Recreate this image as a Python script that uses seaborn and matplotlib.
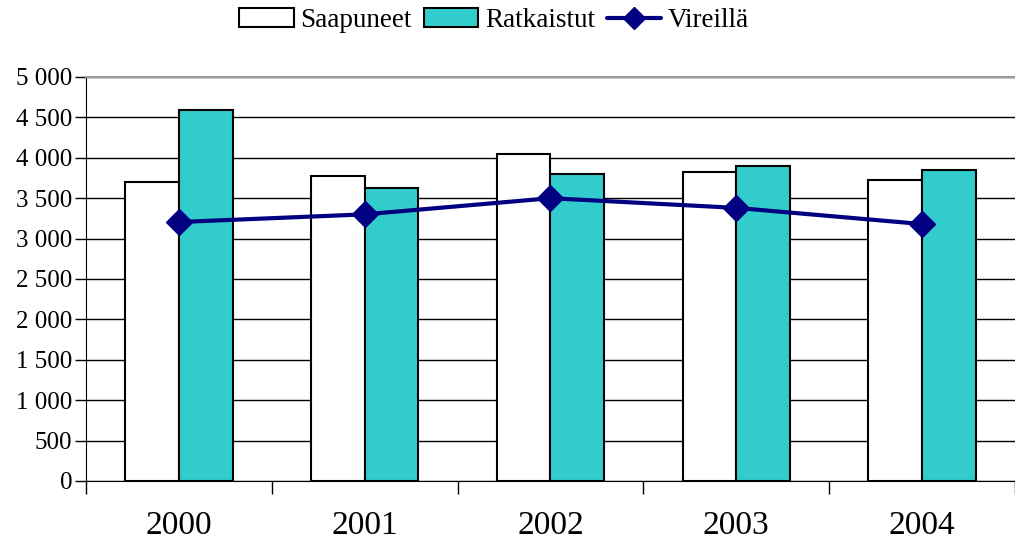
import matplotlib
matplotlib.use('Agg')
import matplotlib.pyplot as plt
from matplotlib.patches import Patch
from matplotlib.lines import Line2D
import seaborn as sns
import pandas as pd

years = ["2000", "2001", "2002", "2003", "2004"]
saapuneet = [3700, 3775, 4045, 3825, 3725]
ratkaistut = [4590, 3625, 3800, 3895, 3850]
vireilla = [3205, 3300, 3500, 3380, 3180]
y_ticks = [0, 500, 1000, 1500, 2000, 2500, 3000, 3500, 4000, 4500, 5000]
y_labels = ["0", "500", "1 000", "1 500", "2 000", "2 500", "3 000", "3 500", "4 000", "4 500", "5 000"]

sns.set_style("white", {"xtick.bottom": True, "ytick.left": True,
                        "text.color": "black", "xtick.color": "black", "ytick.color": "black"})
plt.rcParams['font.family'] = ['Liberation Serif', 'DejaVu Serif']

df = pd.DataFrame({
    "vuosi": years * 2,
    "arvo": saapuneet + ratkaistut,
    "sarja": ["Saapuneet"] * 5 + ["Ratkaistut"] * 5,
})

fig = plt.figure(figsize=(10.15, 5.43), dpi=100)
ax = fig.add_axes([0.0847, 0.1142, 0.9153, 0.744])

sns.barplot(data=df, x="vuosi", y="arvo", hue="sarja",
            palette={"Saapuneet": "white", "Ratkaistut": "#33CCCC"}, saturation=1,
            width=0.578, edgecolor="black", linewidth=1.5, legend=False, ax=ax, zorder=2)
ax.plot(range(len(years)), vireilla, color="#000080", linewidth=3,
        marker="D", markersize=13, zorder=3)

ax.set_ylim(0, 5000)
ax.set_xlim(-0.5, 4.5 - 6 / 187)
ax.set_yticks(y_ticks)
ax.set_yticklabels(y_labels, fontsize=18)
ax.set_xticks(range(len(years)))
ax.set_xticklabels(years, fontsize=24)
ax.set_xticks([i - 0.5 for i in range(len(years) + 1)], minor=True)
ax.tick_params(axis="x", which="major", length=0, pad=21, colors="black")
ax.tick_params(axis="x", which="minor", bottom=True, length=9, width=1, direction="out", color="black")
ax.tick_params(axis="y", left=True, length=8, width=1, direction="out", color="black", labelcolor="black", pad=2)
ax.set_xlabel("")
ax.set_ylabel("")
ax.yaxis.grid(True, color="black", linewidth=1)
ax.set_axisbelow(True)
ax.spines["right"].set_visible(False)
ax.spines["top"].set_color("#999999")
ax.spines["top"].set_linewidth(1.5)
ax.spines["left"].set_color("black")
ax.spines["bottom"].set_color("black")

handles = [
    Patch(facecolor="white", edgecolor="black", linewidth=1.5),
    Patch(facecolor="#33CCCC", edgecolor="black", linewidth=1.5),
    Line2D([0], [0], color="#000080", linewidth=3, marker="D", markersize=11),
]
fig.legend(handles, ["Saapuneet", "Ratkaistut", "Vireillä"], loc="upper center",
           bbox_to_anchor=(0.487, 1.03), ncol=3, frameon=False, fontsize=19.5,
           handlelength=2.0, handletextpad=0.25, columnspacing=0.45)

fig.savefig("out.png", dpi=100)
